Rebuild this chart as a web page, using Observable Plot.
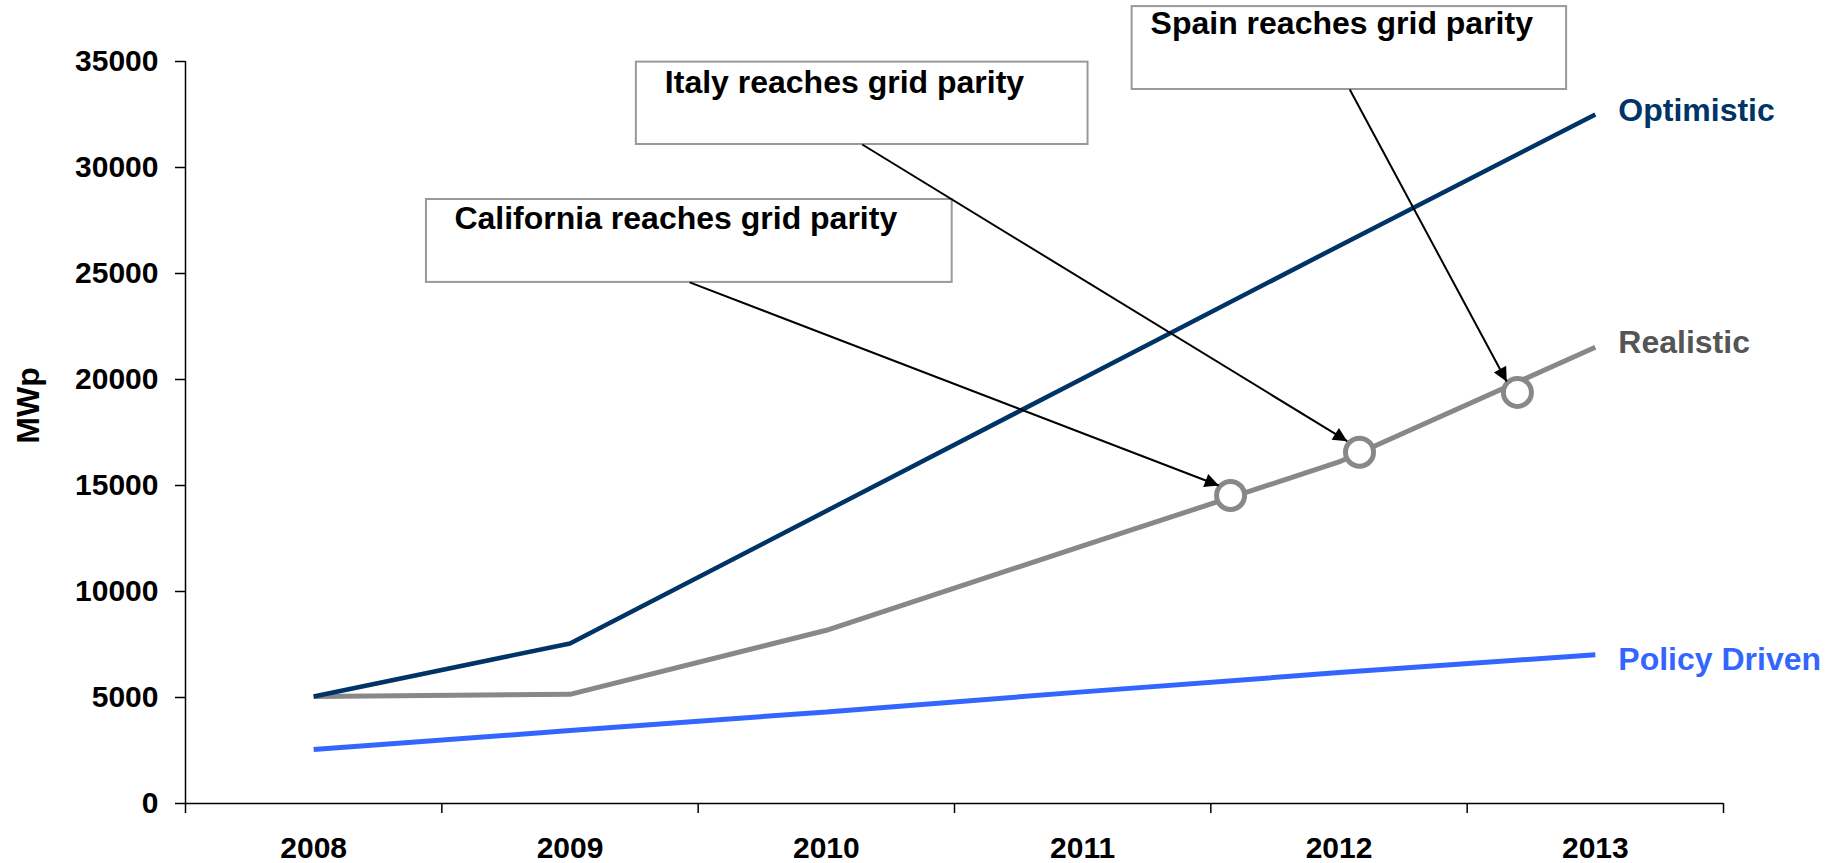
<!DOCTYPE html>
<html>
<head>
<meta charset="utf-8">
<script src="https://cdn.jsdelivr.net/npm/d3@7"></script>
<script src="https://cdn.jsdelivr.net/npm/@observablehq/plot@0.6"></script>
<style>
  html, body { margin: 0; padding: 0; background: #ffffff; }
  #chart { width: 1832px; height: 863px; }
</style>
</head>
<body>
<div id="chart"></div>
<script>
// ---- data ----
const years = [2008, 2009, 2010, 2011, 2012, 2013];
const optimistic = [5050, 7550, 13800, 20050, 26300, 32500];
const realistic = [5050, 5150, 8170, 12150, 16110, 21520];
const policyDriven = [2550, 3440, 4320, 5265, 6175, 7020];

const seriesNames = ["Optimistic", "Realistic", "Policy Driven"];
const seriesValues = [optimistic, realistic, policyDriven];
const lineColors = ["#003366", "#888888", "#3366ff"];
const labelColors = ["#003366", "#555555", "#3366ff"];
const lineWidths = [4.5, 5, 5];
const labelValues = [32690, 21745, 6790];

const yTicks = [0, 5000, 10000, 15000, 20000, 25000, 30000, 35000];
const xBoundaries = [2007.5, 2008.5, 2009.5, 2010.5, 2011.5, 2012.5, 2013.5];
const yLabel = "MWp";

// annotations (data coordinates)
const notes = ["California reaches grid parity", "Italy reaches grid parity", "Spain reaches grid parity"];
const boxX1 = [2008.440, 2009.259, 2011.193];
const boxX2 = [2010.491, 2011.021, 2012.888];
const boxYTop = [28490, 34970, 37590];
const boxYBottom = [24580, 31085, 33680];
const textX = [2008.549, 2009.370, 2011.265];
const textY = [27590, 33990, 36770];
const arrowX1 = [2009.467, 2010.140, 2012.042];
const arrowX2 = [2011.531, 2012.032, 2012.654];
const arrowY2 = [15000, 17090, 19906];
const parityX = [2011.577, 2012.080, 2012.696];
const parityY = [14530, 16570, 19390];

// ---- tables ----
const lineData = seriesNames.flatMap((s, i) =>
  years.map((yr, j) => ({series: s, year: yr, value: seriesValues[i][j]})));
const labelData = seriesNames.map((s, i) => ({series: s, year: years[years.length - 1], value: labelValues[i], color: labelColors[i]}));
const noteData = notes.map((n, i) => ({
  note: n, x1: boxX1[i], x2: boxX2[i], y1: boxYBottom[i], y2: boxYTop[i],
  tx: textX[i], ty: textY[i], ax1: arrowX1[i], ay1: boxYBottom[i], ax2: arrowX2[i], ay2: arrowY2[i],
  px: parityX[i], py: parityY[i]
}));

const font = "'Liberation Sans', Arial, Helvetica, sans-serif";

const lineMarks = [1, 0, 2].map(i => Plot.line(lineData.filter(d => d.series === seriesNames[i]), {
  x: "year", y: "value", stroke: lineColors[i], strokeWidth: lineWidths[i],
  strokeLinecap: "butt", strokeLinejoin: "miter"
}));

const svg = Plot.plot({
  width: 1832,
  height: 863,
  marginLeft: 185,
  marginRight: 109,
  marginTop: 61,
  marginBottom: 60,
  style: {fontFamily: font, fontWeight: "bold", fontSize: "30px", color: "#000", background: "#fff", overflow: "visible"},
  x: {type: "linear", domain: [2007.5, 2013.5]},
  y: {type: "linear", domain: [0, 35000]},
  marks: [
    Plot.axisY(yTicks, {tickSize: 10, tickPadding: 17, tickFormat: d => String(d), strokeWidth: 1.5, fontSize: 30, fontWeight: "bold"}),
    Plot.axisX(xBoundaries, {tickSize: 10, tickFormat: () => "", strokeWidth: 1.5}),
    Plot.axisX(years, {tickSize: 0, tickPadding: 33, tickFormat: d => String(d), fontSize: 30, fontWeight: "bold"}),
    Plot.ruleX([2007.5], {stroke: "#000", strokeWidth: 1.5}),
    Plot.ruleY([0], {stroke: "#000", strokeWidth: 1.5}),
    Plot.text([yLabel], {frameAnchor: "left", dx: -157, dy: -27, rotate: -90, fontSize: 32, fontWeight: "bold", fill: "#000", textAnchor: "middle"}),
    ...lineMarks,
    Plot.rect(noteData, {x1: "x1", x2: "x2", y1: "y1", y2: "y2", fill: "#fff", stroke: "#999", strokeWidth: 2}),
    Plot.text(noteData, {x: "tx", y: "ty", text: "note", textAnchor: "start", lineAnchor: "middle", fontSize: 32, fontWeight: "bold", fill: "#000"}),
    Plot.dot(noteData, {x: "px", y: "py", r: 14, stroke: "#888888", strokeWidth: 5, fill: "#fff"}),
    Plot.link(noteData, {x1: "ax1", y1: "ay1", x2: "ax2", y2: "ay2", stroke: "#000", strokeWidth: 2}),
    Plot.text(labelData, {x: "year", y: "value", text: "series", fill: "color", dx: 23, textAnchor: "start", lineAnchor: "middle", fontSize: 32, fontWeight: "bold"})
  ]
});

// filled arrowheads on the annotation links
const s = d3.select(svg);
const defs = s.insert("defs", ":first-child");
defs.append("marker")
  .attr("id", "arrowhead")
  .attr("viewBox", "0 0 10 10")
  .attr("refX", 10).attr("refY", 5)
  .attr("markerUnits", "userSpaceOnUse")
  .attr("markerWidth", 17).attr("markerHeight", 14)
  .attr("orient", "auto")
  .append("path").attr("d", "M0,0L10,5L0,10Z").attr("fill", "#000");
s.selectAll('g[aria-label="link"] path').attr("marker-end", "url(#arrowhead)");

document.getElementById("chart").appendChild(svg);
</script>
</body>
</html>
